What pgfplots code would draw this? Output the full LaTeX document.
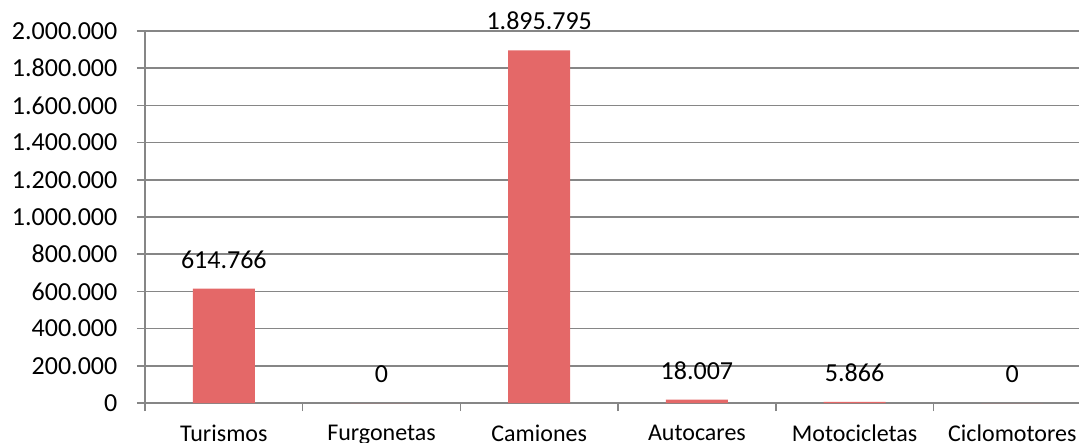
\documentclass[border=0pt]{standalone}
\usepackage{fontspec}
\setmainfont{Carlito}
\usepackage{pgfplots}
\pgfplotsset{compat=1.18}
\definecolor{barred}{RGB}{228,104,104}
\definecolor{gridgray}{RGB}{134,134,134}
\begin{document}
\fontsize{13}{15}\selectfont
\begin{tikzpicture}
\path[use as bounding box] (-72.5pt,-20pt) rectangle (467pt,201.5pt);
\begin{axis}[
  at={(0,0)}, anchor=south west,
  scale only axis, width=467pt, height=186pt,
  xmin=-0.5, xmax=5.423,
  ymin=0, ymax=2000000,
  axis x line*=bottom, axis y line*=left,
  axis line style={gridgray, line width=0.75pt, -},
  ytick={0,200000,...,2000000},
  ymajorgrids, grid style={gridgray, line width=0.75pt},
  xtick={-0.5,0.5,...,4.5}, xticklabels={},
  extra x ticks={0,1,2,3,4,5},
  extra x tick labels={Turismos,Furgonetas,Camiones,Autocares,Motocicletas,Ciclomotores},
  extra x tick style={major tick length=0pt, xticklabel style={yshift=-6.6pt, font=\fontsize{12}{14}\selectfont}},
  tick align=outside, major tick length=4pt,
  tick style={gridgray, line width=0.75pt},
  scaled y ticks=false,
  /pgf/number format/.cd, fixed, 1000 sep={.}, assume math mode=true, /pgfplots/.cd,
  yticklabel style={xshift=-5.3pt},
  ticklabel style={font=\fontsize{13}{15}\selectfont, text=black},
  nodes near coords,
  every node near coord/.append style={font=\fontsize{13}{15}\selectfont, text=black, yshift=5.6pt},
]
\addplot[ybar, bar width=31pt, fill=barred, draw=none] coordinates {
  (0,614766) (1,0) (2,1895795) (3,18007) (4,5866) (5,0)
};
\end{axis}
\end{tikzpicture}
\end{document}
